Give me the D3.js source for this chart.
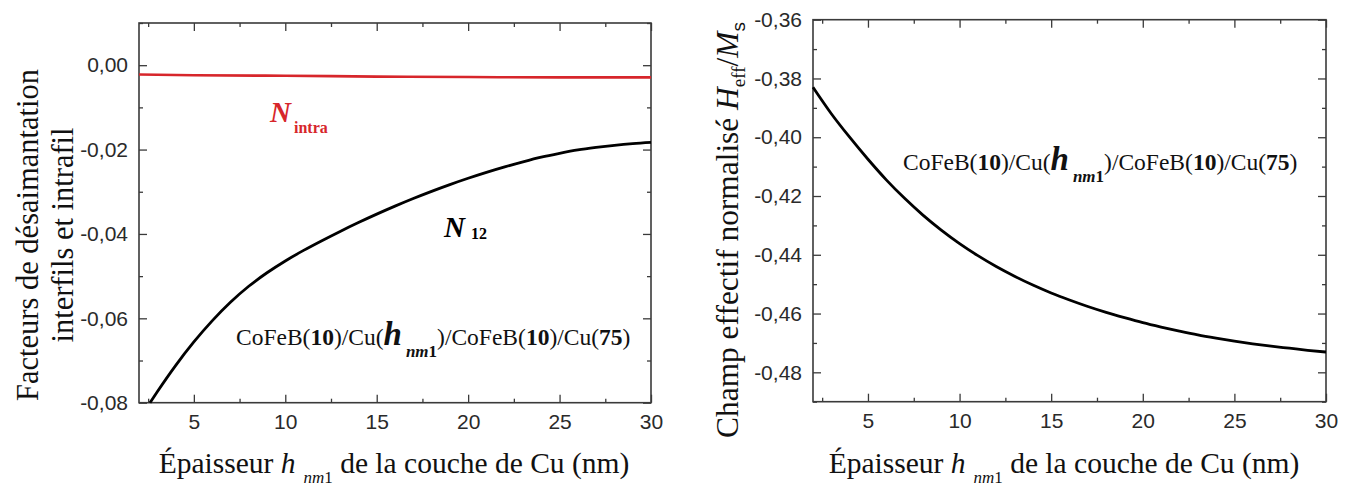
<!DOCTYPE html>
<html><head><meta charset="utf-8">
<script src="https://cdn.jsdelivr.net/npm/d3@7"></script>
<style>
html,body{margin:0;padding:0;background:#fff;}
svg{display:block;}
.tick text{font-family:"Liberation Sans",Arial,sans-serif;}
</style></head>
<body>
<svg id="c" width="1352" height="486"></svg>
<script>
// ---------- DATA ----------
const xN12 = [2.6, 3, 4, 5, 6, 7, 8, 9, 10, 11, 12, 13, 14, 15, 16, 17, 18, 19, 20, 21, 22, 23, 24, 25, 26, 27, 28, 29, 30];
const yN12 = [-0.0800, -0.0774, -0.0712, -0.0656, -0.0606, -0.0562, -0.0524, -0.0492, -0.0464, -0.0439, -0.0416, -0.0394, -0.0373, -0.0353, -0.0334, -0.0316, -0.0299, -0.0283, -0.0268, -0.0254, -0.0241, -0.0229, -0.0218, -0.0209, -0.0201, -0.0195, -0.0190, -0.0186, -0.0183];
const xIntra = [2, 5, 10, 15, 20, 25, 30];
const yIntra = [-0.0022, -0.0024, -0.0025, -0.0027, -0.0028, -0.0029, -0.0029];
const xHeff = [2, 3, 4, 5, 6, 7, 8, 9, 10, 11, 12, 13, 14, 15, 16, 17, 18, 19, 20, 21, 22, 23, 24, 25, 26, 27, 28, 29, 30];
const yHeff = [-0.3830, -0.3920, -0.4000, -0.4075, -0.4145, -0.4208, -0.4265, -0.4316, -0.4362, -0.4403, -0.4440, -0.4473, -0.4503, -0.4530, -0.4554, -0.4576, -0.4596, -0.4614, -0.4631, -0.4646, -0.4660, -0.4673, -0.4684, -0.4694, -0.4703, -0.4711, -0.4718, -0.4725, -0.4731];
const xTicks = [5, 10, 15, 20, 25, 30];
const xMinor = [2.5, 7.5, 12.5, 17.5, 22.5, 27.5];
const yTicksL = [0.00, -0.02, -0.04, -0.06, -0.08];
const yMinorL = [0.01, -0.01, -0.03, -0.05, -0.07];
const yTicksR = [-0.36, -0.38, -0.40, -0.42, -0.44, -0.46, -0.48];
const yMinorR = [-0.37, -0.39, -0.41, -0.43, -0.45, -0.47, -0.49];

const svg = d3.select("#c");
const fmt = d => d.toFixed(2).replace(".", ",").replace("−","-");
const AX = "#3a3a3a";
const TICKFS = 21;

function panel(x0, x1, yTop, yBot, yDom, yTicks, yMinor) {
  const x = d3.scaleLinear().domain([2, 30]).range([x0, x1]);
  const y = d3.scaleLinear().domain(yDom).range([yBot, yTop]);
  const g = svg.append("g");
  function ax(axisGen, tr, ticks, size) {
    const a = g.append("g").attr("transform", tr)
      .call(axisGen.tickValues(ticks).tickSizeInner(size).tickSizeOuter(0).tickFormat(() => ""));
    a.select(".domain").remove();
    a.selectAll("line").attr("stroke", AX).attr("stroke-width", 1.3);
    return a;
  }
  ax(d3.axisBottom(x), `translate(0,${yBot})`, xTicks, -8);
  ax(d3.axisBottom(x), `translate(0,${yBot})`, xMinor, -4);
  const bl = g.append("g").attr("transform", `translate(0,${yBot})`)
    .call(d3.axisBottom(x).tickValues(xTicks).tickSize(0).tickPadding(11).tickFormat(d3.format("d")));
  bl.select(".domain").remove();
  bl.selectAll("text").attr("font-size", TICKFS).attr("fill", "#2a2a2a");
  ax(d3.axisTop(x), `translate(0,${yTop})`, xTicks, -8);
  ax(d3.axisTop(x), `translate(0,${yTop})`, xMinor, -4);
  ax(d3.axisLeft(y), `translate(${x0},0)`, yTicks, -8);
  ax(d3.axisLeft(y), `translate(${x0},0)`, yMinor, -4);
  const ll = g.append("g").attr("transform", `translate(${x0},0)`)
    .call(d3.axisLeft(y).tickValues(yTicks).tickSize(0).tickPadding(11).tickFormat(fmt));
  ll.select(".domain").remove();
  ll.selectAll("text").attr("font-size", TICKFS).attr("fill", "#2a2a2a");
  ax(d3.axisRight(y), `translate(${x1},0)`, yTicks, -8);
  ax(d3.axisRight(y), `translate(${x1},0)`, yMinor, -4);
  g.append("rect").attr("x", x0).attr("y", yTop).attr("width", x1 - x0).attr("height", yBot - yTop)
    .attr("fill", "none").attr("stroke", AX).attr("stroke-width", 1.6);
  return {x, y, g};
}

// ---------- LEFT PANEL ----------
const L = panel(139, 651, 23, 402.7, [-0.08, 0.01], yTicksL, yMinorL);
const lineL = d3.line().x(d => L.x(d[0])).y(d => L.y(d[1])).curve(d3.curveMonotoneX);
svg.append("path").datum(d3.zip(xIntra, yIntra)).attr("d", lineL)
  .attr("fill", "none").attr("stroke", "#d7262b").attr("stroke-width", 2.6);
svg.append("path").datum(d3.zip(xN12, yN12)).attr("d", lineL)
  .attr("fill", "none").attr("stroke", "#000").attr("stroke-width", 2.8);

// ---------- RIGHT PANEL ----------
const R = panel(813, 1326, 19.7, 401.7, [-0.49, -0.36], yTicksR, yMinorR);
const lineR = d3.line().x(d => R.x(d[0])).y(d => R.y(d[1])).curve(d3.curveMonotoneX);
svg.append("path").datum(d3.zip(xHeff, yHeff)).attr("d", lineR)
  .attr("fill", "none").attr("stroke", "#000").attr("stroke-width", 2.8);

// ---------- TEXT ----------
const SERIF = '"Liberation Serif","Times New Roman",serif';

function xTitle(cx, base) {
  const t = svg.append("text").attr("x", cx).attr("y", base).attr("text-anchor", "middle")
    .attr("font-family", SERIF).attr("font-size", 29.5).attr("fill", "#111");
  t.append("tspan").text("Épaisseur ");
  t.append("tspan").attr("font-style", "italic").text("h");
  t.append("tspan").attr("font-style", "italic").attr("font-size", 17).attr("dx", 8).attr("dy", 10).text("nm");
  t.append("tspan").attr("font-size", 17).text("1");
  t.append("tspan").attr("dy", -10).text(" de la couche de Cu (nm)");
}
xTitle(394, 473);
xTitle(1064, 473);

// left y title (two lines)
const ly = svg.append("g").attr("transform", "translate(38,235) rotate(-90)");
ly.append("text").attr("text-anchor", "middle").attr("font-family", SERIF).attr("font-size", 30.5)
  .attr("fill", "#111").text("Facteurs de désaimantation");
ly.append("text").attr("text-anchor", "middle").attr("font-family", SERIF).attr("font-size", 30.5)
  .attr("fill", "#111").attr("y", 35).text("interfils et intrafil");

// right y title
const ry = svg.append("text").attr("transform", "translate(738,230) rotate(-90)")
  .attr("text-anchor", "middle").attr("font-family", SERIF).attr("font-size", 31.4).attr("fill", "#111");
ry.append("tspan").text("Champ effectif normalisé ");
ry.append("tspan").attr("font-style", "italic").text("H");
ry.append("tspan").attr("font-size", 19).attr("dy", 7).text("eff");
ry.append("tspan").attr("dy", -7).text("/");
ry.append("tspan").attr("font-style", "italic").text("M");
ry.append("tspan").attr("font-size", 19).attr("dy", 7).attr("font-family", '"Liberation Sans",Arial,sans-serif').text("s");

// N_intra
const ni = svg.append("text").attr("x", 270).attr("y", 122).attr("font-family", SERIF)
  .attr("font-weight", "bold").attr("fill", "#d7262b");
ni.append("tspan").attr("font-style", "italic").attr("font-size", 29).text("N");
ni.append("tspan").attr("font-size", 16).attr("dx", 3).attr("dy", 11).text("intra");

// N_12
const n12 = svg.append("text").attr("x", 444).attr("y", 237).attr("font-family", SERIF)
  .attr("font-weight", "bold").attr("fill", "#000");
n12.append("tspan").attr("font-style", "italic").attr("font-size", 29).text("N");
n12.append("tspan").attr("font-size", 16).attr("dx", 6).attr("dy", 2).text("12");

function stack(x, base) {
  const t = svg.append("text").attr("x", x).attr("y", base).attr("font-family", SERIF)
    .attr("font-size", 23.5).attr("fill", "#111");
  t.append("tspan").text("CoFeB(");
  t.append("tspan").attr("font-weight", "bold").text("10");
  t.append("tspan").text(")/Cu(");
  t.append("tspan").attr("font-weight", "bold").attr("font-style", "italic").attr("font-size", 33).text("h");
  t.append("tspan").attr("font-weight", "bold").attr("font-style", "italic").attr("font-size", 17).attr("dx", 4).attr("dy", 12).text("nm");
  t.append("tspan").attr("font-weight", "bold").attr("font-size", 17).text("1");
  t.append("tspan").attr("dy", -12).text(")/CoFeB(");
  t.append("tspan").attr("font-weight", "bold").text("10");
  t.append("tspan").text(")/Cu(");
  t.append("tspan").attr("font-weight", "bold").text("75");
  t.append("tspan").text(")");
}
stack(236, 345);
stack(903, 170);
</script>
</body></html>
